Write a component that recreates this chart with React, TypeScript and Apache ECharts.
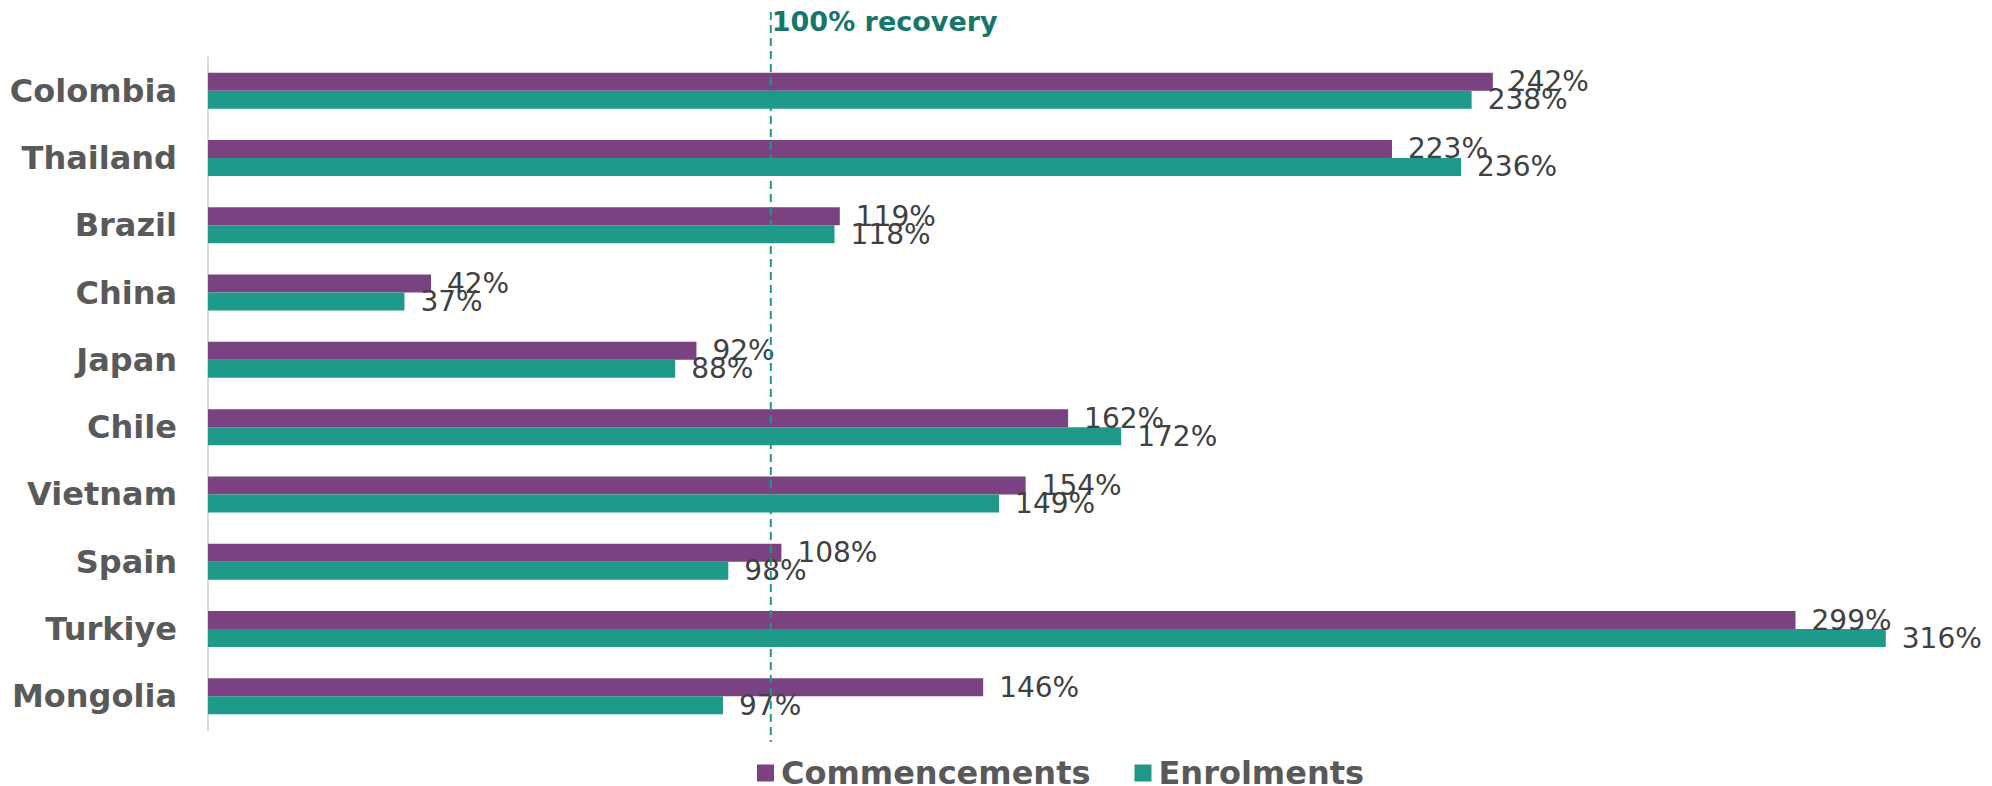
import React, { useEffect, useRef } from "react";
import * as echarts from "echarts";

const categories = ["Colombia", "Thailand", "Brazil", "China", "Japan", "Chile", "Vietnam", "Spain", "Turkiye", "Mongolia"];
const commencements = [242, 223, 119, 42, 92, 162, 154, 108, 299, 146];
const enrolments = [238, 236, 118, 37, 88, 172, 149, 98, 316, 97];
const seriesNames = ["Commencements", "Enrolments"];
const recoveryValue = 106;
const recoveryLabel = "100% recovery";

const PURPLE = "#7B4281";
const TEAL = "#1F998A";
const FONT = "'DejaVu Sans', Verdana, sans-serif";

export default function App() {
  const ref = useRef<HTMLDivElement>(null);
  useEffect(() => {
    if (!ref.current) return;
    const chart = echarts.init(ref.current, null, { renderer: "svg" });
    const labelStyle = {
      show: true,
      position: "right" as const,
      distance: 16,
      formatter: "{c}%",
      color: "#404040",
      fontSize: 28,
      fontFamily: FONT,
    };
    chart.setOption({
      animation: false,
      backgroundColor: "#ffffff",
      textStyle: { fontFamily: FONT },
      grid: { left: 208, right: 85, top: 57, height: 673, containLabel: false },
      xAxis: {
        type: "value",
        min: 0,
        max: 320,
        show: false,
        splitLine: { show: false },
      },
      yAxis: {
        type: "category",
        data: categories,
        inverse: true,
        axisLine: { show: true, lineStyle: { color: "#D9D9D9", width: 2 } },
        axisTick: { show: false },
        axisLabel: {
          color: "#595959",
          fontSize: 32,
          fontWeight: "bold",
          fontFamily: FONT,
          margin: 31,
        },
      },
      legend: {
        left: 752,
        top: 752,
        itemWidth: 17,
        itemHeight: 17,
        itemGap: 44,
        icon: "rect",
        textStyle: { color: "#595959", fontSize: 32, fontWeight: "bold", fontFamily: FONT, padding: [0, 0, 0, 2] },
        data: seriesNames,
      },
      series: [
        {
          name: seriesNames[0],
          type: "bar",
          data: commencements,
          itemStyle: { color: PURPLE },
          barWidth: 18,
          barGap: "0%",
          label: labelStyle,
        },
        {
          name: seriesNames[1],
          type: "bar",
          data: enrolments,
          itemStyle: { color: TEAL },
          barWidth: 18,
          label: labelStyle,
        },
      ],
    });
    const px = chart.convertToPixel({ xAxisIndex: 0 }, recoveryValue) as number;
    chart.setOption({
      graphic: [
        {
          type: "line",
          shape: { x1: px, y1: 12, x2: px, y2: 742 },
          style: { stroke: TEAL, lineWidth: 2, lineDash: [8, 5] },
          z: 10,
        },
        {
          type: "text",
          x: px + 1,
          y: 21,
          style: {
            text: recoveryLabel,
            fill: "#17766B",
            font: `bold 27px ${FONT}`,
            textVerticalAlign: "middle",
          },
          z: 10,
        },
      ],
    });
    return () => chart.dispose();
  }, []);
  return <div ref={ref} style={{ position: "fixed", left: 0, top: 0, width: 1992, height: 786 }} />;
}
